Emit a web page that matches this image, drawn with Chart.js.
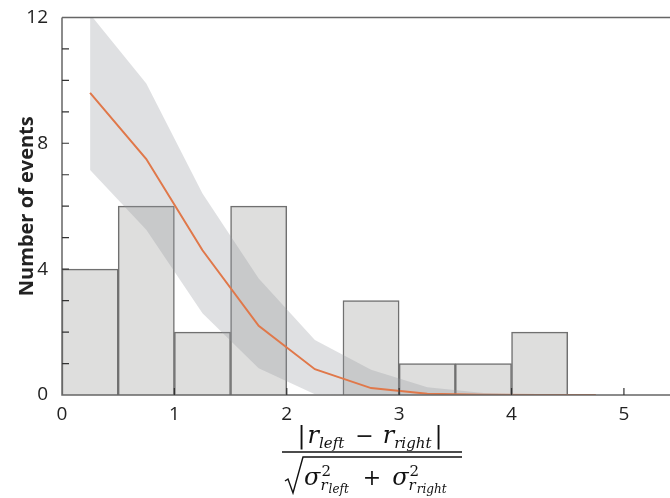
<!DOCTYPE html>
<html lang="en">
<head>
    <meta charset="UTF-8">
    <title>Event histogram</title>
    <script src="https://cdn.jsdelivr.net/npm/chart.js"></script>
    <style>
        body {
            margin: 0;
            background: #fff;
        }
        .chart-container {
            width: 670px;
            height: 498px;
            position: relative;
        }
    </style>
</head>
<body>

    <div class="chart-container">
        <canvas id="histChart"></canvas>
    </div>

    <script>
        // histogram bins (width 0.5) and counts
        const binCenters = [0.25, 0.75, 1.25, 1.75, 2.25, 2.75, 3.25, 3.75, 4.25];
        const binCounts = [4, 6, 2, 6, 0, 3, 1, 1, 2];

        // expected distribution + band
        const curveX = [0.25, 0.75, 1.25, 1.75, 2.25, 2.75, 3.25, 3.75, 4.25, 4.75];
        const curveMean = [9.6, 7.5, 4.6, 2.2, 0.82, 0.22, 0.04, 0.01, 0, 0];
        const bandUpper = [12.1, 9.9, 6.4, 3.7, 1.75, 0.8, 0.25, 0.06, 0.01, 0];
        const bandLower = [7.15, 5.25, 2.6, 0.85, 0.02, 0, 0, 0, 0, 0];

        const xTicks = [0, 1, 2, 3, 4, 5];
        const yTicks = [0, 4, 8, 12];

        const axisColor = '#666';
        const tickFont = { family: 'Open Sans', size: 19 };

        const pts = (xs, ys) => xs.map((x, i) => ({ x: x, y: ys[i] }));

        // axis lines, inward ticks, and the formula under the x axis
        const axesPlugin = {
            id: 'axesPlugin',
            afterDatasetsDraw(chart) {
                const ctx = chart.ctx;
                const area = chart.chartArea;
                const xs = chart.scales.x;
                const ys = chart.scales.y;
                ctx.save();
                ctx.strokeStyle = axisColor;
                ctx.lineWidth = 1.5;
                ctx.beginPath();
                ctx.moveTo(area.left, area.top);
                ctx.lineTo(area.right, area.top);
                ctx.moveTo(area.left, area.top);
                ctx.lineTo(area.left, area.bottom);
                ctx.lineTo(area.right, area.bottom);
                ctx.stroke();

                ctx.lineWidth = 1.2;
                ctx.strokeStyle = '#333';
                ctx.beginPath();
                for (let v = 1; v < 12; v++) {
                    const py = ys.getPixelForValue(v);
                    ctx.moveTo(area.left, py);
                    ctx.lineTo(area.left + 7, py);
                }
                xTicks.forEach(v => {
                    if (v === 0) return;
                    const px = xs.getPixelForValue(v);
                    ctx.moveTo(px, area.bottom);
                    ctx.lineTo(px, area.bottom - 7);
                });
                ctx.stroke();
                ctx.restore();
                drawFormula(ctx, 370, area.bottom);
            }
        };

        // lay out a row of text pieces, return width
        function runPieces(ctx, pieces, x, y, draw) {
            let cx = x;
            pieces.forEach(p => {
                ctx.font = p.font;
                if (draw) ctx.fillText(p.t, cx, y + (p.dy || 0));
                cx += ctx.measureText(p.t).width + (p.gap || 0);
            });
            return cx - x;
        }

        function drawFormula(ctx, cx, axisY) {
            const it = s => 'italic ' + s + 'px "DejaVu Serif"';
            const rm = s => s + 'px "DejaVu Serif"';
            ctx.save();
            ctx.fillStyle = '#111';
            ctx.strokeStyle = '#111';
            ctx.textBaseline = 'alphabetic';

            const num = [
                { t: '|', font: rm(24), gap: 2 },
                { t: 'r', font: it(24), gap: 0 },
                { t: 'left', font: it(15), dy: 5, gap: 4 },
                { t: ' \u2212 ', font: rm(22), gap: 2 },
                { t: 'r', font: it(24), gap: 0 },
                { t: 'right', font: it(15), dy: 5, gap: 3 },
                { t: '|', font: rm(24) }
            ];
            const numW = runPieces(ctx, num, 0, 0, false);
            runPieces(ctx, num, cx - numW / 2, axisY + 48, true);

            const den = [
                { t: '\u03c3', font: it(24), gap: 0 },
                { t: 'r', font: it(15), dy: 5, gap: 1 },
                { t: 'left', font: it(12), dy: 8, gap: 7 },
                { t: ' + ', font: rm(22), gap: 4 },
                { t: '\u03c3', font: it(24), gap: 0 },
                { t: 'r', font: it(15), dy: 5, gap: 1 },
                { t: 'right', font: it(12), dy: 8 }
            ];
            const sqrtW = 19;
            const left = 284;
            const right = 462;
            const baseY = axisY + 90;
            const denLeft = left + sqrtW + 1;
            runPieces(ctx, den, denLeft, baseY, true);
            // superscripts 2 over the subscript r
            ctx.font = it(24);
            const sigW = ctx.measureText('\u03c3').width;
            const sig2 = denLeft + runPieces(ctx, den.slice(0, 4), 0, 0, false);
            ctx.font = rm(15);
            ctx.fillText('2', denLeft + sigW + 1, baseY - 9);
            ctx.fillText('2', sig2 + sigW + 1, baseY - 9);

            // fraction bar
            ctx.lineWidth = 1.4;
            ctx.beginPath();
            ctx.moveTo(282, axisY + 57);
            ctx.lineTo(right, axisY + 57);
            ctx.stroke();
            // radical sign
            ctx.lineWidth = 1.4;
            ctx.beginPath();
            ctx.moveTo(left + 1, baseY - 4);
            ctx.lineTo(left + 4, baseY - 6);
            ctx.lineTo(left + 9, baseY + 8);
            ctx.lineTo(left + sqrtW, axisY + 62);
            ctx.lineTo(right, axisY + 62);
            ctx.stroke();
            ctx.restore();
        }

        const ctx1 = document.getElementById('histChart').getContext('2d');
        const histChart = new Chart(ctx1, {
            data: {
                datasets: [
                    {
                        type: 'bar',
                        label: 'Events',
                        data: pts(binCenters, binCounts),
                        backgroundColor: '#dededd',
                        borderColor: '#707070',
                        borderWidth: 1.5,
                        barPercentage: 1,
                        categoryPercentage: 1,
                        order: 4
                    },
                    {
                        type: 'line',
                        label: 'Lower',
                        data: pts(curveX, bandLower),
                        borderWidth: 0,
                        pointRadius: 0,
                        fill: false,
                        order: 3
                    },
                    {
                        type: 'line',
                        label: 'Upper',
                        data: pts(curveX, bandUpper),
                        borderWidth: 0,
                        pointRadius: 0,
                        backgroundColor: 'rgba(148, 152, 158, 0.3)',
                        fill: 1,
                        order: 2
                    },
                    {
                        type: 'line',
                        label: 'Expected',
                        data: pts(curveX, curveMean),
                        borderColor: '#e0784a',
                        borderWidth: 2,
                        pointRadius: 0,
                        fill: false,
                        order: 1
                    }
                ]
            },
            options: {
                responsive: true,
                maintainAspectRatio: false,
                animation: false,
                layout: { padding: { top: 15, right: 0, left: 0, bottom: 0 } },
                plugins: {
                    legend: { display: false },
                    tooltip: { enabled: false }
                },
                scales: {
                    x: {
                        type: 'linear',
                        offset: false,
                        min: 0,
                        max: 5.41,
                        grid: { display: false, offset: false },
                        border: { display: false },
                        ticks: {
                            stepSize: 1,
                            color: '#222',
                            font: tickFont,
                            padding: 0,
                            maxRotation: 0
                        },
                        afterBuildTicks: scale => {
                            scale.ticks = xTicks.map(v => ({ value: v }));
                        },
                        afterFit: scale => { scale.height = 103; }
                    },
                    y: {
                        min: 0,
                        max: 12,
                        grid: { display: false },
                        border: { display: false },
                        ticks: {
                            stepSize: 4,
                            color: '#222',
                            font: tickFont,
                            padding: 6
                        },
                        afterBuildTicks: scale => {
                            scale.ticks = yTicks.map(v => ({ value: v }));
                        },
                        title: {
                            display: true,
                            text: 'Number of events',
                            color: '#222',
                            font: { family: 'Open Sans', size: 20, weight: 'bold' },
                            padding: { top: 15, bottom: 0 }
                        },
                        afterFit: scale => { scale.width = 62; }
                    }
                }
            },
            plugins: [axesPlugin]
        });
    </script>

</body>
</html>
